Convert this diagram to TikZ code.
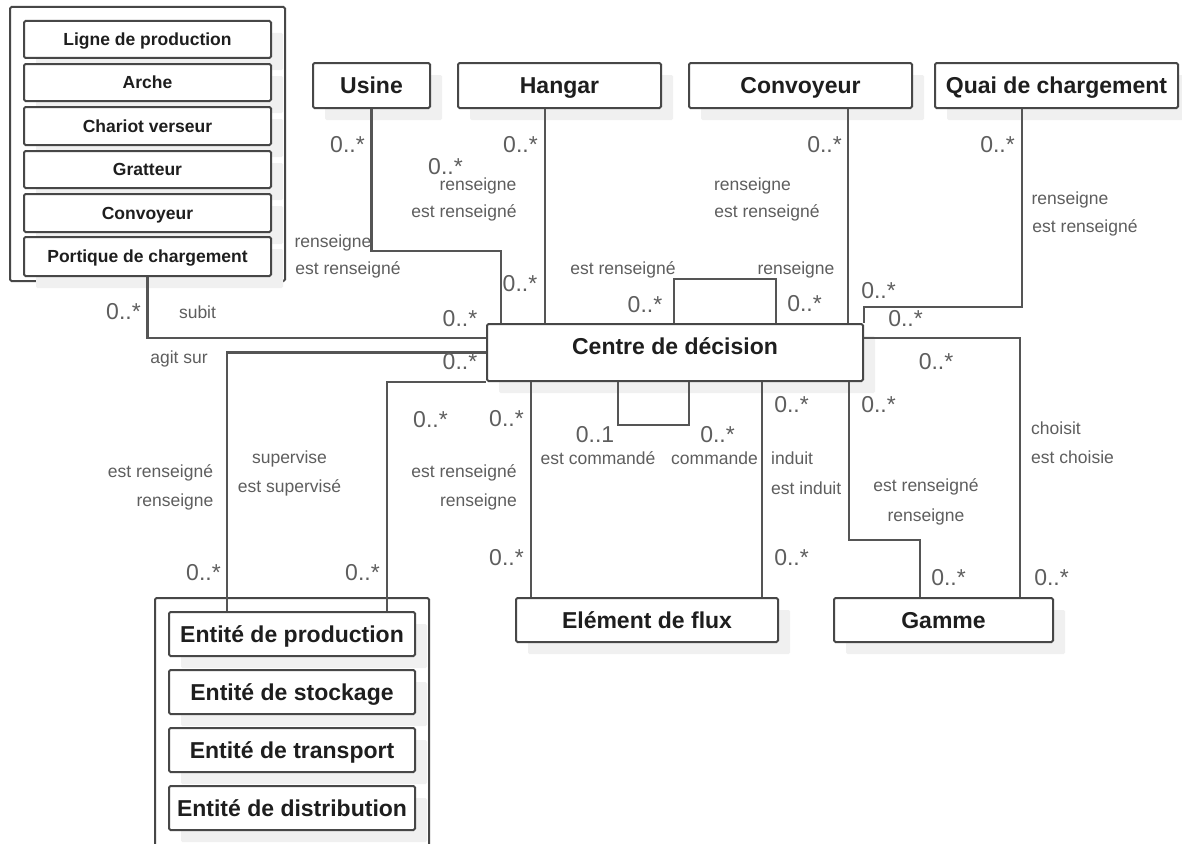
\documentclass[tikz,border=0pt]{standalone}
\usepackage{fontspec}
\setmainfont{Liberation Sans}
\usetikzlibrary{shadows}
\definecolor{linec}{HTML}{555555}
\definecolor{boxc}{HTML}{474747}
\definecolor{txtc}{HTML}{1E1E1E}
\definecolor{lblc}{HTML}{5E5E5E}
\definecolor{shadc}{HTML}{F0F0F0}
\begin{document}
\begin{tikzpicture}[x=1pt,y=-1pt,
  plainbox/.style={draw=boxc, line width=2pt, fill=white, rounded corners=1.5pt, inner sep=0pt, text=txtc},
  basebox/.style={plainbox, general shadow={fill=shadc, shadow xshift=12pt, shadow yshift=-12pt}},
  tbox/.style={basebox, font=\bfseries\fontsize{23}{27}\selectfont, text height=16.5pt, text depth=0pt},
  sbox/.style={basebox, font=\bfseries\fontsize{17.5}{21}\selectfont, text height=12.5pt, text depth=0pt},
  grp/.style={plainbox},
  conn/.style={draw=linec, line width=2.2pt},
  mult/.style={inner sep=0pt, text=lblc, font=\fontsize{23}{27}\selectfont, text height=16.5pt, text depth=0pt},
  lbl/.style={inner sep=0pt, text=lblc, font=\fontsize{17.5}{21}\selectfont, text height=12.6pt, text depth=3.7pt}
]
\useasboundingbox (0,0) rectangle (1182,843);
\fill[white] (0,0) rectangle (1182,843);

% left group
\node[grp, minimum width=275pt, minimum height=274pt] (lgrp) at (147.5,144) {};
\node[sbox, minimum width=247pt, minimum height=37pt] (ligne) at (147.5,39.5) {Ligne de production};
\node[sbox, minimum width=247pt, minimum height=37pt] (arche) at (147.5,82.5) {Arche};
\node[sbox, minimum width=247pt, minimum height=38pt] (chariot) at (147.5,126) {Chariot verseur};
\node[sbox, minimum width=247pt, minimum height=37pt] (gratteur) at (147.5,169.5) {Gratteur};
\node[sbox, minimum width=247pt, minimum height=38pt] (lconv) at (147.5,213) {Convoyeur};
\node[sbox, minimum width=247pt, minimum height=39pt] (portique) at (147.5,256.5) {Portique de chargement};

% top boxes
\node[tbox, minimum width=117pt, minimum height=45pt] (usine) at (371.5,85.5) {Usine};
\node[tbox, minimum width=203pt, minimum height=45pt] (hangar) at (559.5,85.5) {Hangar};
\node[tbox, minimum width=223pt, minimum height=45pt] (tconv) at (800.5,85.5) {Convoyeur};
\node[tbox, minimum width=243pt, minimum height=45pt] (quai) at (1056.5,85.5) {Quai de chargement};

% centre
\node[tbox, text depth=12pt, minimum width=376pt, minimum height=57pt] (centre) at (675,352.5) {Centre de décision};

% bottom
\node[tbox, minimum width=262pt, minimum height=44pt] (elem) at (647,620) {Elément de flux};
\node[tbox, minimum width=219pt, minimum height=44pt] (gamme) at (943.5,620) {Gamme};
\node[grp, minimum width=274pt, minimum height=258pt] (egrp) at (292,727) {};
\node[tbox, minimum width=246pt, minimum height=44pt] (eprod) at (292,634) {Entité de production};
\node[tbox, minimum width=246pt, minimum height=44pt] (estock) at (292,692) {Entité de stockage};
\node[tbox, minimum width=246pt, minimum height=44pt] (etrans) at (292,750) {Entité de transport};
\node[tbox, minimum width=246pt, minimum height=44pt] (edist) at (292,808) {Entité de distribution};

% bend coordinates
\coordinate (ub) at (501,251);
\coordinate (gb) at (920,540);

% connectors
\draw[conn] (portique.south) |- ([yshift=14.5pt]centre.west);
\draw[conn] ([xshift=-65pt]eprod.north) |- (centre.west);
\draw[conn] ([xshift=95pt]eprod.north) |- (centre.south west);
\draw[conn] (usine.south) |- (ub) -- (ub |- centre.north);
\draw[conn] ([xshift=-14.5pt]hangar.south) -- ([xshift=-14.5pt]hangar.south |- centre.north);
\draw[conn] ([xshift=188pt]centre.north west) -- ++(0,-44) -| ([xshift=290pt]centre.north west);
\draw[conn] ([xshift=47.5pt]tconv.south) -- ([xshift=47.5pt]tconv.south |- centre.north);
\draw[conn] ([xshift=-34.5pt]quai.south) |- ([yshift=16pt]centre.north east) -- (centre.north east);
\draw[conn] ([yshift=14.5pt]centre.east) -| ([xshift=76.5pt]gamme.north);
\draw[conn] ([xshift=-15pt]centre.south east) |- (gb) -- (gb |- gamme.north);
\draw[conn] ([xshift=-116pt]elem.north) -- ([xshift=-116pt]elem.north |- centre.south);
\draw[conn] ([xshift=115pt]elem.north) -- ([xshift=115pt]elem.north |- centre.south);
\draw[conn] ([xshift=-57pt]centre.south) -- ++(0,43) -| ([xshift=14pt]centre.south);

% labels
\node[mult] (m1) at (347.5,144) {0..*};
\node[mult] (m2) at (445.5,166) {0..*};
\node[lbl] (l1) at (478,186) {renseigne};
\node[lbl] (l2) at (464,213) {est renseigné};
\node[mult] (m3) at (520.5,144) {0..*};
\node[lbl] (l3) at (333,243) {renseigne};
\node[lbl] (l4) at (348,270) {est renseigné};
\node[mult] (m4) at (520,283) {0..*};
\node[mult] (m5) at (460,318) {0..*};
\node[lbl] (l5) at (623,270) {est renseigné};
\node[mult] (m6) at (645,304) {0..*};
\node[lbl] (l6) at (752.5,186) {renseigne};
\node[lbl] (l7) at (767,213) {est renseigné};
\node[lbl] (l8) at (796,270) {renseigne};
\node[mult] (m7) at (804.5,303) {0..*};
\node[mult] (m8) at (824.5,144) {0..*};
\node[mult] (m9) at (997.5,144) {0..*};
\node[lbl] (l9) at (1070,200) {renseigne};
\node[lbl] (l10) at (1085,228) {est renseigné};
\node[mult] (m10) at (878.5,290) {0..*};
\node[mult] (m11) at (905.5,318) {0..*};
\node[mult] (m12) at (123.5,311) {0..*};
\node[lbl] (l11) at (197.5,314) {subit};
\node[lbl] (l12) at (179,359) {agit sur};
\node[mult] (m13) at (460,361) {0..*};
\node[mult] (m14) at (430.5,419) {0..*};
\node[mult] (m15) at (506.5,418) {0..*};
\node[lbl] (l13) at (160.5,473) {est renseigné};
\node[lbl] (l14) at (175,502) {renseigne};
\node[lbl] (l15) at (289.5,459) {supervise};
\node[lbl] (l16) at (289.5,488) {est supervisé};
\node[lbl] (l17) at (464,473) {est renseigné};
\node[lbl] (l18) at (478.5,502) {renseigne};
\node[mult] (m16) at (506.5,557) {0..*};
\node[mult] (m17) at (203.5,572) {0..*};
\node[mult] (m18) at (362.5,572) {0..*};
\node[mult] (m19) at (791.5,404) {0..*};
\node[mult] (m20) at (595,434) {0..1};
\node[mult] (m21) at (717.5,434) {0..*};
\node[lbl] (l19) at (598,460) {est commandé};
\node[lbl] (l20) at (714.5,460) {commande};
\node[lbl, anchor=west] (l21) at (771,460) {induit};
\node[lbl, anchor=west] (l22) at (771,490) {est induit};
\node[mult] (m22) at (791.5,557) {0..*};
\node[mult] (m23) at (936,361) {0..*};
\node[mult] (m24) at (878.5,404) {0..*};
\node[lbl, anchor=west] (l23) at (1031,430) {choisit};
\node[lbl, anchor=west] (l24) at (1031,459) {est choisie};
\node[lbl] (l25) at (926,487) {est renseigné};
\node[lbl] (l26) at (926,517) {renseigne};
\node[mult] (m25) at (948.5,577) {0..*};
\node[mult] (m26) at (1051.5,577) {0..*};
\end{tikzpicture}
\end{document}
